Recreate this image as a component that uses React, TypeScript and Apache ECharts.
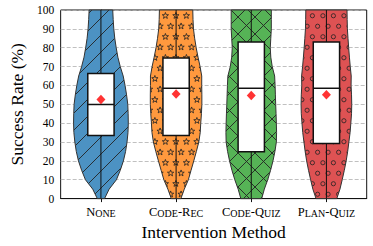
import React, { useEffect, useRef } from 'react';
import * as echarts from 'echarts';

const categories = ['None', 'Code-Rec', 'Code-Quiz', 'Plan-Quiz'];
const levels = [0, 5, 10, 15, 20, 25, 30, 35, 40, 45, 50, 55, 60, 65, 70, 75, 80, 85, 90, 95, 100];
// violin half-widths (x-axis units) at each level
const halfNone = [0.048, 0.109, 0.206, 0.257, 0.299, 0.328, 0.347, 0.36, 0.364, 0.362, 0.357, 0.341, 0.321, 0.296, 0.257, 0.225, 0.203, 0.184, 0.171, 0.163, 0.157];
const halfCodeRec = [0.064, 0.109, 0.163, 0.199, 0.235, 0.27, 0.302, 0.321, 0.328, 0.337, 0.343, 0.343, 0.341, 0.341, 0.319, 0.292, 0.267, 0.247, 0.231, 0.225, 0.222];
const halfCodeQuiz = [0.139, 0.174, 0.219, 0.257, 0.289, 0.315, 0.334, 0.337, 0.334, 0.33, 0.325, 0.321, 0.317, 0.311, 0.279, 0.26, 0.253, 0.26, 0.267, 0.267, 0.267];
const halfPlanQuiz = [0.138, 0.18, 0.21, 0.238, 0.263, 0.283, 0.299, 0.315, 0.325, 0.334, 0.337, 0.334, 0.328, 0.33, 0.317, 0.306, 0.296, 0.287, 0.279, 0.276, 0.274];
const profiles = [halfNone, halfCodeRec, halfCodeQuiz, halfPlanQuiz];

const q1 = [33.5, 33.5, 24.9, 29.2];
const median = [49.9, 58.5, 58.5, 58.5];
const q3 = [66.3, 74.6, 83.0, 83.0];
const mean = [52.5, 55.4, 54.6, 55.0];
const whiskerLow = [0, 0, 0, 0];
const whiskerHigh = [100, 100, 100, 100];
const yTicks = [0, 10, 20, 30, 40, 50, 60, 70, 80, 90, 100];

const colors = ['#4c92c3', '#ff993e', '#56b356', '#de5253'];
const hatches = ['/', '*', 'x', 'o'];
const FONT = '"Liberation Serif", "DejaVu Serif", serif';

function makeTile(kind: string, color: string) {
  const c = document.createElement('canvas');
  const ink = 'rgba(35,35,35,0.9)';
  if (kind === '/' || kind === 'x') {
    const s = 17;
    c.width = s; c.height = s;
    const g = c.getContext('2d')!;
    g.fillStyle = color; g.fillRect(0, 0, s, s);
    g.strokeStyle = ink; g.lineWidth = 1;
    for (const o of [-s, 0, s]) {
      g.beginPath(); g.moveTo(o, s); g.lineTo(o + s, 0); g.stroke();
      if (kind === 'x') { g.beginPath(); g.moveTo(o, 0); g.lineTo(o + s, s); g.stroke(); }
    }
    return c;
  }
  const s = 21;
  c.width = s; c.height = s;
  const g = c.getContext('2d')!;
  g.fillStyle = color; g.fillRect(0, 0, s, s);
  g.strokeStyle = ink; g.lineWidth = 0.9;
  const centers = [[2.6, 5.25], [13.1, 5.25], [7.9, 15.75], [18.4, 15.75]];
  for (const [cx0, cy0] of centers) {
    for (const dx of [-s, 0, s]) for (const dy of [-s, 0, s]) {
      const cx = cx0 + dx, cy = cy0 + dy;
      g.beginPath();
      if (kind === 'o') {
        g.arc(cx, cy, 2.1, 0, Math.PI * 2);
      } else {
        for (let k = 0; k < 10; k++) {
          const r = k % 2 === 0 ? 3.3 : 1.35;
          const a = -Math.PI / 2 + (k * Math.PI) / 5;
          const px = cx + r * Math.cos(a), py = cy + r * Math.sin(a);
          if (k === 0) g.moveTo(px, py); else g.lineTo(px, py);
        }
        g.closePath();
      }
      g.stroke();
    }
  }
  return c;
}

function smallCaps(label: string) {
  let out = '';
  let cur = '';
  let cls = '';
  for (const ch of label) {
    const c = ch >= 'a' && ch <= 'z' ? 's' : 'b';
    if (c !== cls && cur) { out += `{${cls}|${cur}}`; cur = ''; }
    cls = c;
    cur += ch.toUpperCase();
  }
  if (cur) out += `{${cls}|${cur}}`;
  return out;
}

export default function App() {
  const ref = useRef<HTMLDivElement>(null);
  useEffect(() => {
    if (!ref.current) return;
    const chart = echarts.init(ref.current, undefined, { renderer: 'svg' });
    const patterns = colors.map((col, i) => ({ image: makeTile(hatches[i], col), repeat: 'repeat' }));
    const boxHalf = 0.175;
    chart.setOption({
      animation: false,
      grid: { left: 50, right: 6.3, top: 10, bottom: 43, show: true, borderColor: '#111', borderWidth: 1, backgroundColor: 'transparent' },
      xAxis: {
        type: 'value', min: -0.536, max: 3.536,
        name: 'Intervention Method', nameLocation: 'middle', nameGap: 17,
        nameTextStyle: { fontFamily: FONT, fontSize: 17.5, color: '#000' },
        axisLine: { lineStyle: { color: '#111', width: 1 } },
        axisTick: { show: true, length: 3.5, customValues: [0, 1, 2, 3], lineStyle: { color: '#111' } },
        axisLabel: {
          customValues: [0, 1, 2, 3], margin: 7,
          formatter: (v: number) => smallCaps(categories[Math.round(v)] ?? ''),
          rich: {
            b: { fontFamily: FONT, fontSize: 12.5, lineHeight: 12.5, color: '#000', verticalAlign: 'bottom' },
            s: { fontFamily: FONT, fontSize: 10, lineHeight: 10, color: '#000', verticalAlign: 'bottom' },
          },
        },
        splitLine: { show: false },
      },
      yAxis: {
        type: 'value', min: 0, max: 100, interval: 10,
        name: 'Success Rate (%)', nameLocation: 'middle', nameGap: 30,
        nameTextStyle: { fontFamily: FONT, fontSize: 17.5, color: '#000' },
        axisLine: { show: true, lineStyle: { color: '#111', width: 1 } },
        axisTick: { show: true, length: 3.5, lineStyle: { color: '#111' } },
        axisLabel: { margin: 6.5, fontFamily: FONT, fontSize: 11.5, color: '#000', formatter: (v: number) => (yTicks.includes(v) ? String(v) : '') },
        splitLine: { show: true, lineStyle: { color: '#b0b0b0', type: [4, 2], width: 0.8 } },
      },
      series: [
        {
          type: 'custom',
          data: categories.map((_, i) => [i]),
          z: 2,
          renderItem: (params: any, api: any) => {
            const i = api.value(0);
            const prof = profiles[i];
            const right = levels.map((v, k) => api.coord([i + prof[k], v]));
            const left = levels.map((v, k) => api.coord([i - prof[k], v])).reverse();
            const lo = api.coord([i, whiskerLow[i]]);
            const hi = api.coord([i, whiskerHigh[i]]);
            const bTL = api.coord([i - boxHalf, q3[i]]);
            const bBR = api.coord([i + boxHalf, q1[i]]);
            const mL = api.coord([i - boxHalf, median[i]]);
            const mR = api.coord([i + boxHalf, median[i]]);
            return {
              type: 'group',
              children: [
                { type: 'polygon', shape: { points: right.concat(left) }, style: { fill: patterns[i], stroke: '#333', lineWidth: 1 } },
                { type: 'line', shape: { x1: lo[0], y1: lo[1], x2: hi[0], y2: hi[1] }, style: { stroke: '#111', lineWidth: 1 } },
                { type: 'rect', shape: { x: bTL[0], y: bTL[1], width: bBR[0] - bTL[0], height: bBR[1] - bTL[1] }, style: { fill: '#fff', stroke: '#111', lineWidth: 1.5 } },
                { type: 'line', shape: { x1: mL[0], y1: mL[1], x2: mR[0], y2: mR[1] }, style: { stroke: '#111', lineWidth: 1.5 } },
              ],
            };
          },
        },
        {
          type: 'scatter',
          z: 5,
          symbol: 'diamond',
          symbolSize: [9, 9.5],
          itemStyle: { color: '#ff0000' },
          data: mean.map((m, i) => [i, m]),
        },
      ],
    });
    return () => chart.dispose();
  }, []);
  return <div ref={ref} style={{ width: 373, height: 246, position: 'absolute', left: 0, top: 0 }} />;
}
